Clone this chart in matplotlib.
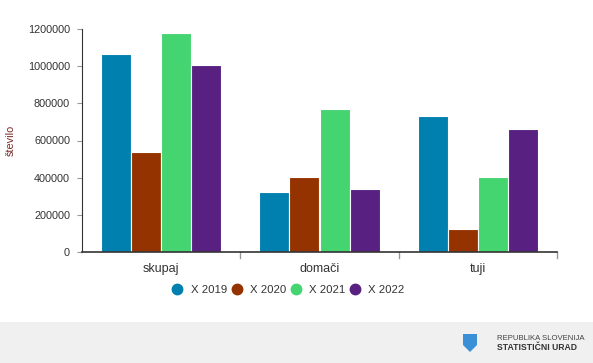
import numpy as np
import matplotlib.pyplot as plt
from matplotlib.patches import Rectangle, Polygon

plt.rcParams['font.family'] = ['Liberation Sans', 'DejaVu Sans']

# === DATA ===
categories = ['skupaj', 'domači', 'tuji']
series_names = ['X 2019', 'X 2020', 'X 2021', 'X 2022']
x2019 = [1065000, 323000, 732000]
x2020 = [538000, 404000, 124000]
x2021 = [1178000, 770000, 404000]
x2022 = [1006000, 339000, 662000]
y_ticks = [0, 200000, 400000, 600000, 800000, 1000000, 1200000]

colors = ['#0080AE', '#953300', '#44D571', '#582181']
values = [x2019, x2020, x2021, x2022]

# === FIGURE ===
fig = plt.figure(figsize=(5.93, 3.63), dpi=100)
ax = fig.add_axes([82 / 593, 111 / 363, 475 / 593, 223 / 363])

x = np.arange(len(categories))
w = 0.19
for i, (vals, col) in enumerate(zip(values, colors)):
    ax.bar(x + (i - 1.5) * w, vals, width=w, color=col, edgecolor='white',
           linewidth=0.8, zorder=2)

ax.set_xlim(-0.5, 2.5)
ax.set_ylim(0, 1200000)
ax.set_yticks(y_ticks)
ax.set_yticklabels([str(v) for v in y_ticks], fontsize=7.8, color='#333333')
ax.set_xticks(x)
ax.set_xticklabels(categories, fontsize=9, color='#333333')
ax.tick_params(axis='x', length=0, pad=8)
ax.tick_params(axis='y', length=3.6, color='#999999', pad=5)

# category boundary ticks
for b in [0.5, 1.5, 2.5]:
    ax.plot([b, b], [0, -0.025], transform=ax.get_xaxis_transform(),
            color='#999999', lw=1, clip_on=False)

for s in ['top', 'right']:
    ax.spines[s].set_visible(False)
ax.spines['left'].set_color('#333333')
ax.spines['bottom'].set_color('#333333')
ax.spines['bottom'].set_linewidth(1.2)

ax.set_ylabel('število', fontsize=7.8, color='#7a2a2a')
ax.yaxis.set_label_coords(-0.140, 0.5)

handles = [plt.Line2D([], [], marker='o', linestyle='', markersize=7.5,
                      color=c) for c in colors]
ax.legend(handles, series_names, loc='center', bbox_to_anchor=(0.434, -0.172),
          ncol=4, frameon=False, fontsize=8.2, handlelength=0.9,
          handletextpad=0.7, columnspacing=0.4, labelcolor='#333333')

# === FOOTER ===
fig.patches.append(Rectangle((0, 0), 1, 41 / 363, transform=fig.transFigure,
                             facecolor='#f0f0f0', edgecolor='none', zorder=0))
shield = [(463, 334), (477, 334), (477, 345), (470, 352), (463, 345)]
fig.patches.append(Polygon([(px / 593, 1 - py / 363) for px, py in shield],
                           closed=True, transform=fig.transFigure,
                           facecolor='#3b8fd6', edgecolor='none'))
fig.text(497 / 593, 1 - 339 / 363, 'REPUBLIKA SLOVENIJA', fontsize=5.6,
         color='#444444', va='center')
fig.text(497 / 593, 1 - 348 / 363, 'STATISTIČNI URAD', fontsize=6.2,
         color='#333333', weight='bold', va='center')

fig.savefig('out.png', dpi=100)
